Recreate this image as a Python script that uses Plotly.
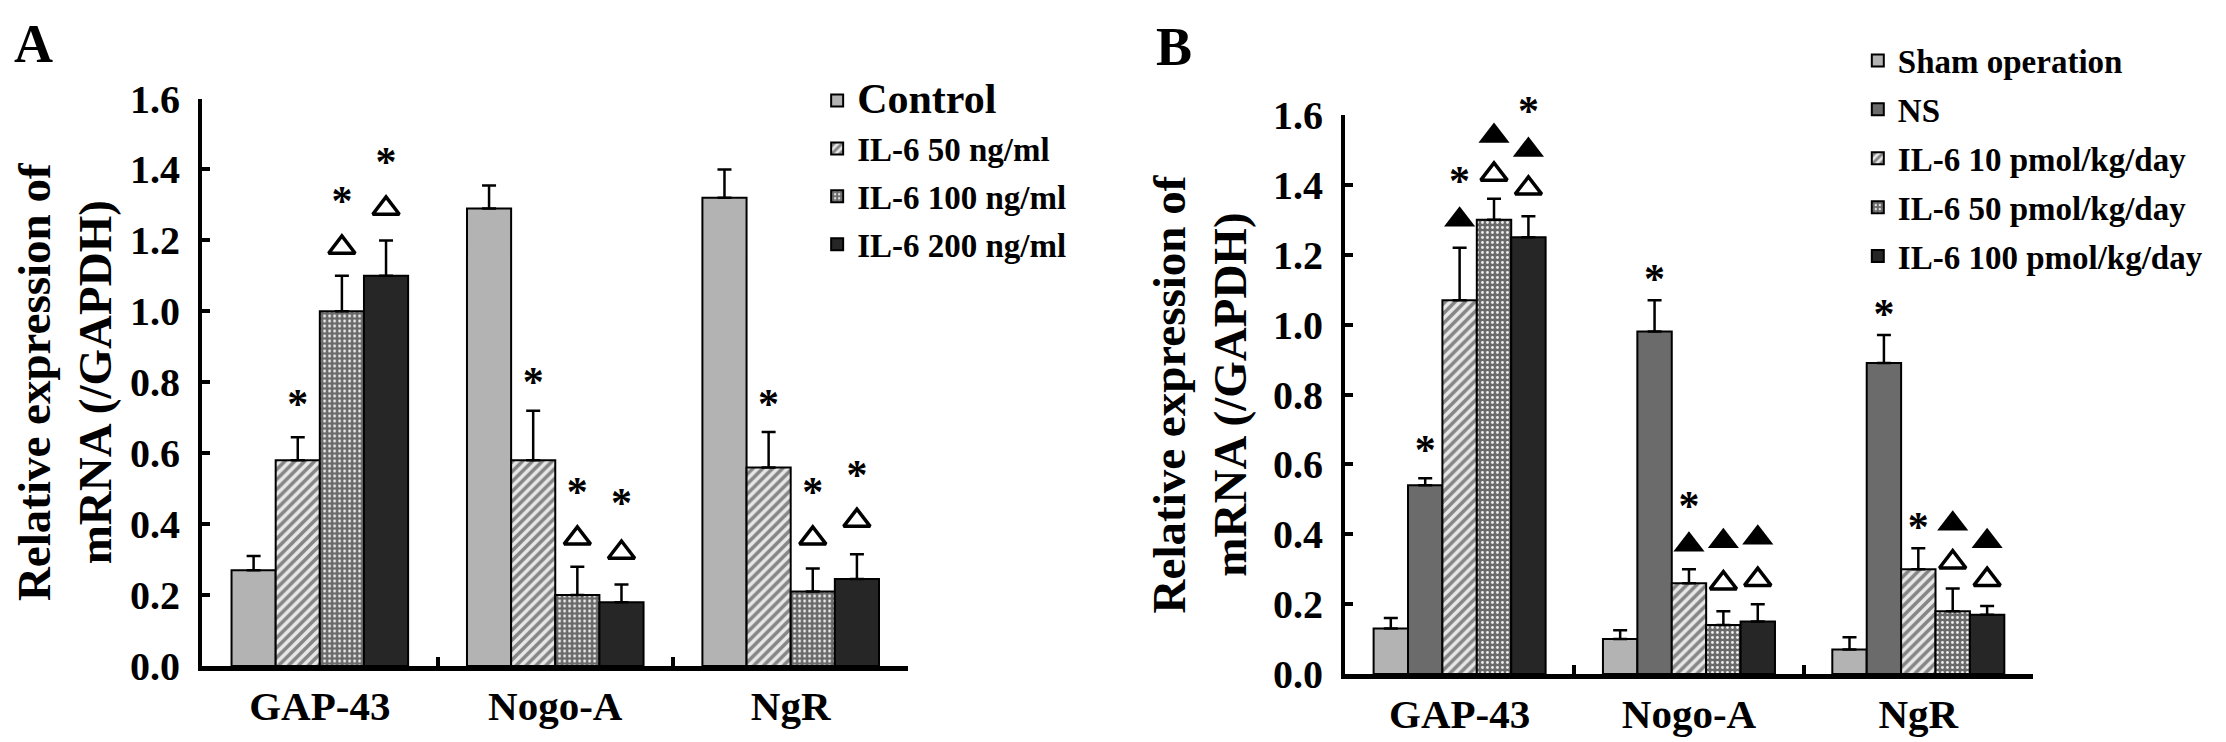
import plotly.graph_objects as go

genes = ["GAP-43", "Nogo-A", "NgR"]

# panel A: cells treated with IL-6
groups_a = ["Control", "IL-6 50 ng/ml", "IL-6 100 ng/ml", "IL-6 200 ng/ml"]
control_a = [0.27, 1.29, 1.32]
il6_50_a = [0.58, 0.58, 0.56]
il6_100_a = [1.00, 0.20, 0.21]
il6_200_a = [1.10, 0.18, 0.245]
control_a_err = [0.04, 0.065, 0.08]
il6_50_a_err = [0.065, 0.14, 0.10]
il6_100_a_err = [0.10, 0.08, 0.065]
il6_200_a_err = [0.10, 0.05, 0.07]
# significance marks (position of the mark, None = no mark)
star_a = [[None, None, None], [0.73, 0.79, 0.73], [1.30, 0.48, 0.48], [1.41, 0.45, 0.53]]
open_tri_a = [[None, None, None], [None, None, None], [1.18, 0.36, 0.36], [1.29, 0.32, 0.41]]
fill_tri_a = [[None, None, None]] * 4

# panel B: rats
groups_b = ["Sham operation", "NS", "IL-6 10 pmol/kg/day", "IL-6 50 pmol/kg/day", "IL-6 100 pmol/kg/day"]
sham_b = [0.13, 0.10, 0.07]
ns_b = [0.54, 0.98, 0.89]
il6_10_b = [1.07, 0.26, 0.30]
il6_50_b = [1.30, 0.14, 0.18]
il6_100_b = [1.25, 0.15, 0.17]
sham_b_err = [0.03, 0.025, 0.035]
ns_b_err = [0.02, 0.09, 0.08]
il6_10_b_err = [0.15, 0.04, 0.06]
il6_50_b_err = [0.06, 0.04, 0.065]
il6_100_b_err = [0.06, 0.05, 0.025]
star_b = [[None, None, None], [0.63, 1.12, 1.02], [1.40, 0.47, 0.41], [1.64, None, None], [1.60, None, None]]
open_tri_b = [[None, None, None], [None, None, None], [None, None, None], [1.43, 0.26, 0.32], [1.39, 0.27, 0.27]]
fill_tri_b = [[None, None, None], [None, None, None], [1.30, 0.37, None], [1.54, 0.38, 0.43], [1.50, 0.39, 0.38]]

FONT = "Liberation Serif"
OUTLINE = dict(color="black", width=2)


def bar_marker(kind):
    if kind == "light":
        return dict(color="#b3b3b3", line=OUTLINE)
    if kind == "mid":
        return dict(color="#6b6b6b", line=OUTLINE)
    if kind == "dark":
        return dict(color="#262626", line=OUTLINE)
    if kind == "hatch":
        return dict(color="white", line=OUTLINE,
                    pattern=dict(shape="/", fgcolor="#858585", bgcolor="#e8e8e8", size=7, solidity=0.5))
    return dict(color="#6e6e6e", line=OUTLINE,
                pattern=dict(shape=".", fgcolor="#f0f0f0", bgcolor="#6a6a6a", size=5, solidity=0.25))


def add_panel(fig, tag, names, values, errors, kinds, stars, opens, fills, xa, ya, legend):
    for i, name in enumerate(names):
        og = tag + str(i)
        label = name
        if name == "Control":
            label = "<span style='font-size:42px'>Control</span>"
        fig.add_trace(go.Bar(
            x=genes, y=values[i], name=label, offsetgroup=og,
            marker=bar_marker(kinds[i]),
            error_y=dict(type="data", array=errors[i], arrayminus=[0] * len(genes), symmetric=False,
                         color="black", thickness=2.5, width=7),
            xaxis=xa, yaxis=ya, legend=legend, legendgroup=og,
        ))
        fig.add_trace(go.Scatter(
            x=genes, y=stars[i], mode="text", text=["*"] * len(genes),
            textfont=dict(family=FONT, size=42, color="black", weight="bold"),
            textposition="middle center", offsetgroup=og, cliponaxis=False,
            showlegend=False, hoverinfo="skip", xaxis=xa, yaxis=ya,
        ))
        fig.add_trace(go.Scatter(
            x=genes, y=opens[i], mode="markers", offsetgroup=og, cliponaxis=False,
            marker=dict(symbol="triangle-up-open", size=23, color="black", line=dict(width=3.5, color="black")),
            showlegend=False, hoverinfo="skip", xaxis=xa, yaxis=ya,
        ))
        fig.add_trace(go.Scatter(
            x=genes, y=fills[i], mode="markers", offsetgroup=og, cliponaxis=False,
            marker=dict(symbol="triangle-up", size=27, color="black"),
            showlegend=False, hoverinfo="skip", xaxis=xa, yaxis=ya,
        ))


fig = go.Figure()
add_panel(fig, "a", groups_a,
          [control_a, il6_50_a, il6_100_a, il6_200_a],
          [control_a_err, il6_50_a_err, il6_100_a_err, il6_200_a_err],
          ["light", "hatch", "dots", "dark"],
          star_a, open_tri_a, fill_tri_a, "x", "y", "legend")
add_panel(fig, "b", groups_b,
          [sham_b, ns_b, il6_10_b, il6_50_b, il6_100_b],
          [sham_b_err, ns_b_err, il6_10_b_err, il6_50_b_err, il6_100_b_err],
          ["light", "mid", "hatch", "dots", "dark"],
          star_b, open_tri_b, fill_tri_b, "x2", "y2", "legend2")

xaxis_style = dict(
    type="category", showline=True, linewidth=5, linecolor="black",
    ticks="inside", tickson="boundaries", ticklen=9, tickwidth=4, tickcolor="black",
    tickfont=dict(family=FONT, size=41, color="black", weight="bold"),
    showgrid=False, zeroline=False, automargin=False,
)
yaxis_style = dict(
    range=[0, 1.6], dtick=0.2, tickformat=".1f", showline=True, linewidth=4, linecolor="black",
    ticks="inside", ticklen=8, tickwidth=4, tickcolor="black", ticklabelstandoff=10,
    tickfont=dict(family=FONT, size=40, color="black", weight="bold"),
    showgrid=False, zeroline=False, automargin=False,
    title=dict(text="Relative expression of<br>mRNA (/GAPDH)", standoff=12,
               font=dict(family=FONT, size=47, color="black", weight="bold")),
)

legend_style = dict(
    xanchor="left", yanchor="top", bgcolor="rgba(0,0,0,0)", borderwidth=0,
    font=dict(family=FONT, size=33, color="black", weight="bold"),
)

fig.update_layout(
    template="none",
    width=2226, height=742,
    margin=dict(l=0, r=0, t=0, b=0),
    paper_bgcolor="white", plot_bgcolor="white",
    barmode="group", bargap=0.25, bargroupgap=0,
    scattermode="group",
    font=dict(family=FONT, color="black"),
    xaxis=dict(domain=[0.0872, 0.4045], anchor="y", **xaxis_style),
    yaxis=dict(domain=[0.1132, 0.8780], anchor="x", **yaxis_style),
    xaxis2=dict(domain=[0.6006, 0.9097], anchor="y2", **xaxis_style),
    yaxis2=dict(domain=[0.1024, 0.8558], anchor="x2", **yaxis_style),
    legend=dict(x=0.3635, y=0.913, tracegroupgap=2, **legend_style),
    legend2=dict(x=0.831, y=0.967, tracegroupgap=3, **legend_style),
    annotations=[
        dict(text="A", x=0.002, y=0.995, xref="paper", yref="paper", xanchor="left", yanchor="top",
             showarrow=False, font=dict(family=FONT, size=54, color="black", weight="bold")),
        dict(text="B", x=0.515, y=0.99, xref="paper", yref="paper", xanchor="left", yanchor="top",
             showarrow=False, font=dict(family=FONT, size=54, color="black", weight="bold")),
    ],
)

fig.write_html("out.html")
